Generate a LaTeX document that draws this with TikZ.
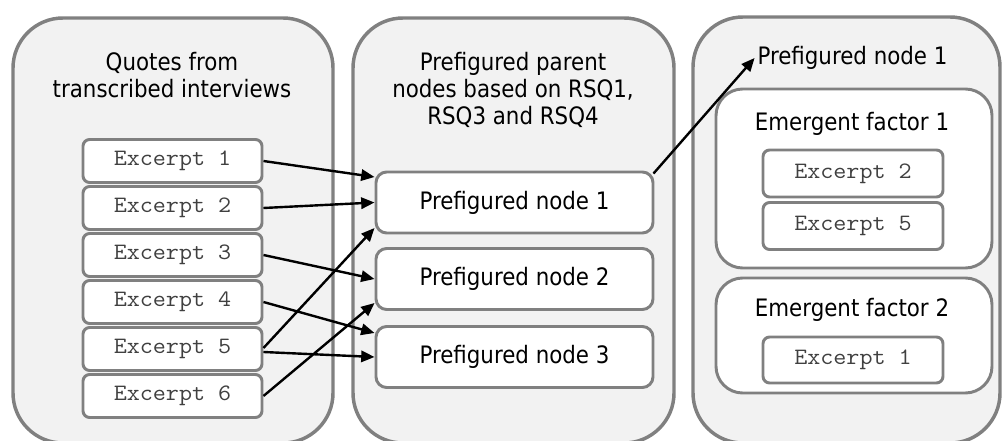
\documentclass[tikz,border=0pt]{standalone}
\usepackage{fontspec}
\setmainfont[FakeStretch=0.89]{DejaVu Sans}
\setmonofont[FakeStretch=1.08]{Latin Modern Mono}
\usetikzlibrary{arrows.meta,calc}
\definecolor{bd}{HTML}{808080}
\definecolor{bg}{HTML}{F2F2F2}
\tikzset{
  outerbox/.style={draw=bd, line width=2.6pt, fill=bg, rounded corners=37.5pt, inner sep=0pt},
  excbox/.style={draw=bd, line width=2.2pt, fill=white, rounded corners=5pt,
    minimum width=134.25pt, minimum height=32.25pt, inner sep=0pt,
    font=\ttfamily\fontsize{17.6}{20}\selectfont, text=black!75},
  pnode/.style={draw=bd, line width=2.2pt, fill=white, rounded corners=8pt,
    minimum width=207.75pt, minimum height=45.75pt, inner sep=0pt,
    font=\fontsize{18}{20.25}\selectfont},
  efbox/.style={draw=bd, line width=2.2pt, fill=white, rounded corners=20pt,
    minimum width=207pt, inner sep=0pt},
  titletext/.style={align=center, inner sep=0pt, font=\fontsize{18}{20.25}\selectfont},
  arr/.style={-{Triangle[length=10pt,width=8.5pt]}, line width=1.8pt, black}
}
\begin{document}
\begin{tikzpicture}[x=0.75pt,y=-0.75pt]
\useasboundingbox (0,0) rectangle (1002,441);
% outer boxes
\node[outerbox, minimum width=240pt, minimum height=318.75pt] (B1) at (173,230.5) {};
\node[outerbox, minimum width=240.75pt, minimum height=318.75pt] (B2) at (513.5,230.5) {};
\node[outerbox, minimum width=230.25pt, minimum height=319.5pt] (B3) at (846.5,230) {};
% titles
\node[titletext] (T1) at (172,75.5) {Quotes from\\transcribed interviews};
\node[titletext] (T2) at (513,89.5) {Prefigured parent\\nodes based on RSQ1,\\RSQ3 and RSQ4};
\node[titletext, inner sep=2pt] (T3) at (852.5,58) {Prefigured node 1};
% left excerpts
\node[excbox] (E1) at (172.5,161) {Excerpt 1};
\node[excbox] (E2) at (172.5,208) {Excerpt 2};
\node[excbox] (E3) at (172.5,255) {Excerpt 3};
\node[excbox] (E4) at (172.5,302) {Excerpt 4};
\node[excbox] (E5) at (172.5,349) {Excerpt 5};
\node[excbox] (E6) at (172.5,396) {Excerpt 6};
% prefigured nodes
\node[pnode] (P1) at (514.5,202.5) {Prefigured node 1};
\node[pnode] (P2) at (514.5,279) {Prefigured node 2};
\node[pnode] (P3) at (514.5,357) {Prefigured node 3};
% emergent factors
\node[efbox, minimum height=134.25pt] (F1) at (854,178.5) {};
\node[titletext] (F1t) at (852,124) {Emergent factor 1};
\node[excbox, minimum width=135pt, minimum height=35.25pt] (R2) at (853,173.5) {Excerpt 2};
\node[excbox, minimum width=135pt, minimum height=35.25pt] (R5) at (853,226) {Excerpt 5};
\node[efbox, minimum height=86.25pt] (F2) at (854,335.5) {};
\node[titletext] (F2t) at (852,310) {Emergent factor 2};
\node[excbox, minimum width=135pt, minimum height=34.5pt] (R1) at (853,360) {Excerpt 1};
% arrows
\draw[arr] (E1.east) -- ($(P1.west)+(0,-25.5)$);
\draw[arr] (E2.east) -- (P1.west);
\draw[arr] ($(E5.east)+(0,-1)$) -- ($(P1.west)+(0,25.5)$);
\draw[arr] (E3.east) -- (P2.west);
\draw[arr] (E6.east) -- ($(P2.west)+(0,24)$);
\draw[arr] (E4.east) -- ($(P3.west)+(0,-24)$);
\draw[arr] ($(E5.east)+(0,3)$) -- (P3.west);
\draw[arr] ($(P1.north east)+(-1,3)$) -- (T3.west);
\end{tikzpicture}
\end{document}
